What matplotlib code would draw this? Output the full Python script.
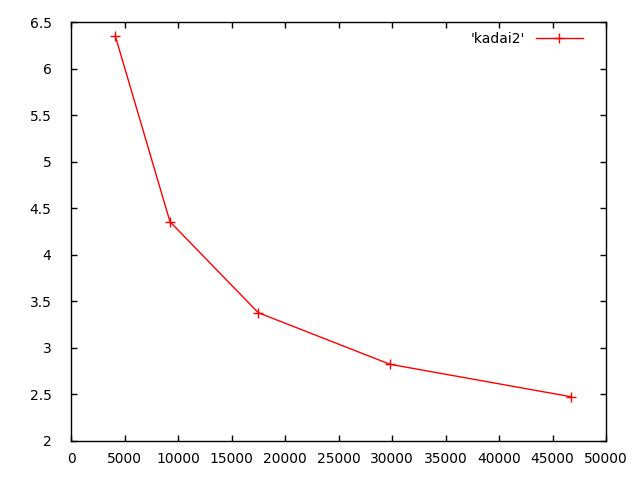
import matplotlib
matplotlib.use("Agg")
import matplotlib.pyplot as plt

x = [4140, 9250, 17500, 29810, 46700]
y = [6.350, 4.355, 3.378, 2.824, 2.476]
label = "'kadai2'"

fig = plt.figure(figsize=(6.4, 4.8), dpi=100)
ax = fig.add_axes([71/640, 39/480, 535/640, 419/480])
ax.plot(x, y, color='#ff0000', lw=1, marker='+', ms=7, mew=1, label=label)
ax.set_xlim(0, 50000)
ax.set_ylim(2, 6.5)
ax.set_xticks(range(0, 50001, 5000))
ax.set_yticks([2, 2.5, 3, 3.5, 4, 4.5, 5, 5.5, 6, 6.5])
ax.set_yticklabels(['2', '2.5', '3', '3.5', '4', '4.5', '5', '5.5', '6', '6.5'])
ax.tick_params(direction='in', top=True, right=True, length=4, width=1,
               labelsize=10, pad=8, colors='black')
ax.tick_params(axis='y', pad=14)
for s in ax.spines.values():
    s.set_linewidth(1)
leg = ax.legend(loc='upper right', frameon=False, markerfirst=False,
                handlelength=3.4, fontsize=10, borderaxespad=0.3,
                bbox_to_anchor=(0.975, 1.0))
fig.savefig('out.png', dpi=100)
